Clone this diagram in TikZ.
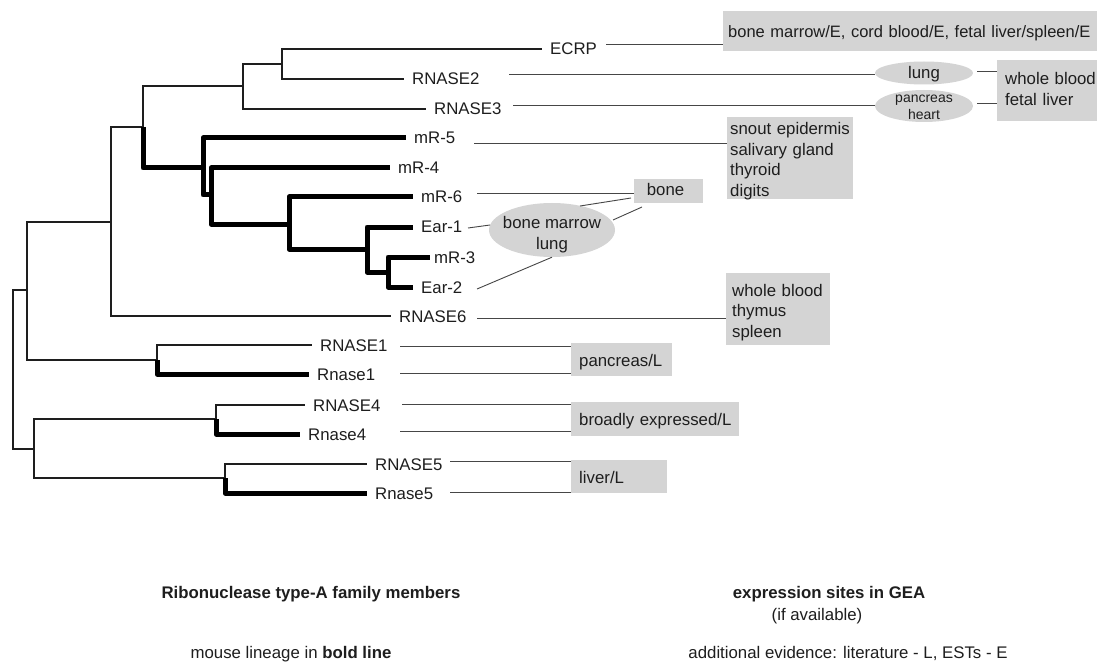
\documentclass[tikz,border=0pt]{standalone}
\usepackage{fontspec}
\setmainfont{Liberation Sans}
\usetikzlibrary{shapes.geometric}
\definecolor{boxgray}{RGB}{212,212,212}
\definecolor{ink}{RGB}{30,30,30}
\definecolor{conn}{RGB}{70,70,70}
\newcommand\lblfont{\fontsize{16.8}{20.5}\selectfont}
\newcommand\smlfont{\fontsize{14}{17}\selectfont}
\begin{document}
\begin{tikzpicture}[x=1pt,y=-1pt,
  tr/.style={draw=ink, line width=1.3pt},
  mo/.style={draw=black, line width=5pt, line join=round},
  leaf/.style={anchor=west, inner xsep=8pt, inner ysep=0pt, text height=12pt, text depth=0pt, font=\lblfont, text=ink},
  ctr/.style={inner sep=0pt, text height=12pt, text depth=0pt, font=\lblfont, text=ink},
  ctrs/.style={inner sep=0pt, text height=10pt, text depth=0pt, font=\smlfont, text=ink},
  con/.style={draw=conn, line width=0.9pt},
  gbox/.style={fill=boxgray, draw=none, anchor=north west, inner sep=0pt},
  gell/.style={ellipse, fill=boxgray, draw=none, inner sep=-20pt},
  btxt/.style={anchor=base west, inner sep=0pt, font=\lblfont, text=ink, align=left, text width=420pt},
]
\fill[white] (0,0) rectangle (1097,663);
\useasboundingbox (0,0) rectangle (1097,663);

% ---------- tree internal nodes ----------
\coordinate (R) at (13,370);
\coordinate (N1) at (27,290);
\coordinate (N2) at (111,222);
\coordinate (N3) at (143,127);
\coordinate (N4) at (243,86);
\coordinate (N5) at (282,64);
\coordinate (MA) at (203,168);
\coordinate (MB) at (211,195);
\coordinate (MC) at (289,224);
\coordinate (MD) at (367,249);
\coordinate (ME) at (388,272);
\coordinate (N6) at (157,360);
\coordinate (N7) at (34,449);
\coordinate (N8) at (216,419);
\coordinate (N9) at (225,478);

% ---------- leaves ----------
\node[leaf] (ecrp) at (542,49) {ECRP};
\node[leaf] (rnase2) at (404,79) {RNASE2};
\node[leaf] (rnase3) at (426,109) {RNASE3};
\node[leaf] (mr5) at (406,138) {mR-5};
\node[leaf] (mr4) at (390,168) {mR-4};
\node[leaf] (mr6) at (413,197) {mR-6};
\node[leaf] (ear1) at (413,227) {Ear-1};
\node[leaf, inner xsep=4pt] (mr3) at (430,257) {mR-3};
\node[leaf] (ear2) at (413,287) {Ear-2};
\node[leaf] (rnase6) at (391,316) {RNASE6};
\node[leaf] (rnase1) at (312,345) {RNASE1};
\node[leaf] (mrnase1) at (309,374) {Rnase1};
\node[leaf] (rnase4) at (305,405) {RNASE4};
\node[leaf] (mrnase4) at (300,434) {Rnase4};
\node[leaf] (rnase5) at (367,464) {RNASE5};
\node[leaf] (mrnase5) at (367,493) {Rnase5};

% ---------- tree edges ----------
\draw[tr] (R) |- (N1);
\draw[tr] (R) |- (N7);
\draw[tr] (N1) |- (N2);
\draw[tr] (N1) |- (N6);
\draw[tr] (N2) |- (N3);
\draw[tr] (N2) |- (rnase6.west);
\draw[tr] (N3) |- (N4);
\draw[tr] (N4) |- (N5);
\draw[tr] (N4) |- (rnase3.west);
\draw[tr] (N5) |- (ecrp.west);
\draw[tr] (N5) |- (rnase2.west);
\draw[mo] (N3) |- (MA);
\draw[mo] (MA) |- (mr5.west);
\draw[mo] (MA) |- (MB);
\draw[mo] (MB) |- (mr4.west);
\draw[mo] (MB) |- (MC);
\draw[mo] (MC) |- (mr6.west);
\draw[mo] (MC) |- (MD);
\draw[mo] (MD) |- (ear1.west);
\draw[mo] (MD) |- (ME);
\draw[mo] (ME) |- (mr3.west);
\draw[mo] (ME) |- (ear2.west);
\draw[tr] (N6) |- (rnase1.west);
\draw[mo] (N6) |- (mrnase1.west);
\draw[tr] (N7) |- (N8);
\draw[tr] (N7) |- (N9);
\draw[tr] (N8) |- (rnase4.west);
\draw[mo] (N8) |- (mrnase4.west);
\draw[tr] (N9) |- (rnase5.west);
\draw[mo] (N9) |- (mrnase5.west);

% ---------- expression boxes ----------
\node[gbox, minimum width=374pt, minimum height=40pt] (b1) at (723,11) {};
\node[btxt, font=\fontsize{16.5}{20}\selectfont] (t1) at (728,38) {bone marrow/E, cord blood/E, fetal liver/spleen/E};
\node[gbox, minimum width=100pt, minimum height=61pt] (wb) at (997,60) {};
\node[btxt] (twb) at (1005,85) {whole blood\\fetal liver};
\node[gbox, minimum width=126pt, minimum height=82pt] (snout) at (727,117) {};
\node[btxt] (tsnout) at (730,135) {snout epidermis\\salivary gland\\thyroid\\digits};
\node[gbox, minimum width=69pt, minimum height=24pt] (bone) at (634,179) {};
\node[ctr] (tbone) at (665.5,190) {bone};
\node[gbox, minimum width=104pt, minimum height=72pt] (wts) at (726,273) {};
\node[btxt] (twts) at (732,296) {whole blood\\thymus\\spleen};
\node[gbox, minimum width=101pt, minimum height=33pt] (pl) at (571,343) {};
\node[btxt] (tpl) at (579,366) {pancreas/L};
\node[gbox, minimum width=168pt, minimum height=34pt] (be) at (571,402) {};
\node[btxt] (tbe) at (579,425) {broadly expressed/L};
\node[gbox, minimum width=96pt, minimum height=33pt] (ll) at (571,460) {};
\node[btxt] (tll) at (579,483) {liver/L};

\node[gell, minimum width=98pt, minimum height=23pt] (lung) at (924,73) {};
\node[ctr] (tlung) at (924,73) {lung};
\node[gell, minimum width=98pt, minimum height=32pt] (panc) at (924,106) {};
\node[ctrs] (tpanc) at (924,98) {pancreas};
\node[ctrs] (theart) at (924,115) {heart};
\node[gell, minimum width=126pt, minimum height=54pt] (bm) at (552,230) {};
\node[ctr] (tbm1) at (552,222) {bone marrow};
\node[ctr] (tbm2) at (552,243) {lung};

% ---------- connectors ----------
\draw[con] (606,44) -- (b1.west |- 0,44);
\draw[con] (509,74) -- (lung.west |- 0,74);
\draw[con] (513,105) -- (panc.west |- 0,105);
\draw[con] (977,71) -- (wb.west |- 0,71);
\draw[con] (977,103) -- (wb.west |- 0,103);
\draw[con] (474,143) -- (snout.west |- 0,143);
\draw[con] (477,193) -- (bone.west |- 0,193);
\draw[con] (580,206) -- (631,198);
\draw[con] (613,220) -- (642,207);
\draw[con] (468,228) -- (490,225);
\draw[con] (477,289) -- (bm.south);
\draw[con] (477,318) -- (wts.west |- 0,318);
\draw[con] (400,346) -- (pl.west |- 0,346);
\draw[con] (400,373) -- (pl.west |- 0,373);
\draw[con] (402,404) -- (be.west |- 0,404);
\draw[con] (400,431) -- (be.west |- 0,431);
\draw[con] (450,461) -- (ll.west |- 0,461);
\draw[con] (450,492) -- (ll.west |- 0,492);

% ---------- captions ----------
\node[ctr, font=\lblfont\bfseries] (cap1) at (311,592) {Ribonuclease type-A family members};
\node[ctr, font=\lblfont\bfseries] (cap2) at (829,592) {expression sites in GEA};
\node[ctr] (cap3) at (817,614) {(if available)};
\node[ctr] (cap4) at (291,652) {mouse lineage in \textbf{bold line}};
\node[ctr] (cap5) at (848,652) {additional evidence: literature - L, ESTs - E};
\end{tikzpicture}
\end{document}
